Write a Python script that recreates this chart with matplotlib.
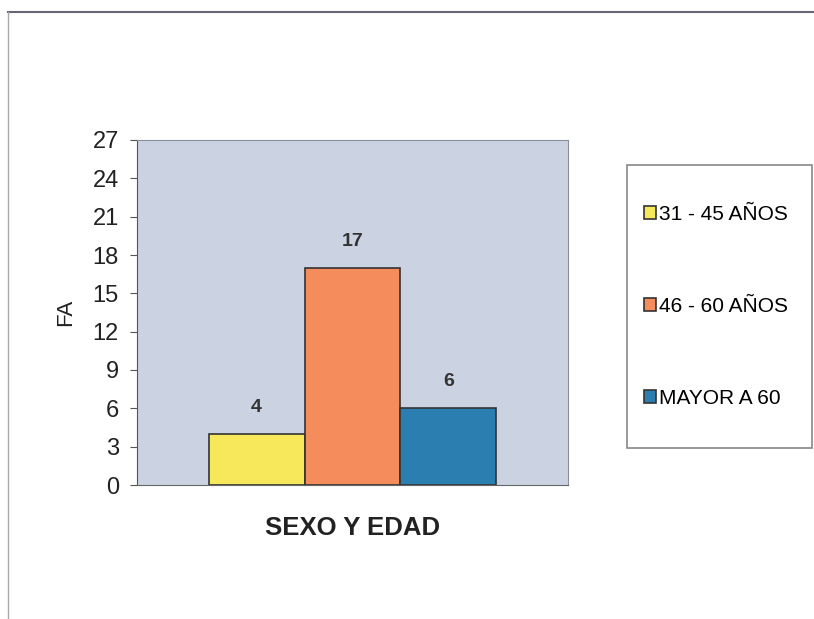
import matplotlib.pyplot as plt
from matplotlib.patches import Rectangle
from matplotlib.lines import Line2D

plt.rcParams['font.family'] = ['Liberation Sans', 'DejaVu Sans']

grupos = ['31 - 45 AÑOS', '46 - 60 AÑOS', 'MAYOR A 60']
fa = [4, 17, 6]
colores = ['#F6E85A', '#F58C5C', '#2A7FB0']
yticks = [0, 3, 6, 9, 12, 15, 18, 21, 24, 27]

fig = plt.figure(figsize=(8.14, 6.19), dpi=100)
ax = fig.add_axes([137/814, 1 - 485/619, 431/814, 345/619])
ax.set_facecolor('#CBD2E2')

pos = [-1, 0, 1]
bars = []
for p, v, c, g in zip(pos, fa, colores, grupos):
    b = ax.bar(p, v, width=1, color=c, edgecolor='#333333', linewidth=1.2, label=g)
    bars.append(b)
    ax.text(p, v + 1.4, str(v), ha='center', va='bottom', fontsize=14, fontweight='bold', color='#333333')

ax.set_xlim(-2.245, 2.245)
ax.set_ylim(0, 27)
ax.set_yticks(yticks)
ax.tick_params(axis='y', labelsize=17, length=5, pad=8, color='#555555', labelcolor='#222222')
ax.set_xticks([])
ax.set_ylabel('FA', fontsize=16, labelpad=12, color='#222222')
ax.set_xlabel('SEXO Y EDAD', fontsize=18.5, fontweight='bold', labelpad=22, color='#222222')
for s in ['top', 'right']:
    ax.spines[s].set_color('#8a8f9a')
ax.spines['left'].set_color('#555555')
ax.spines['bottom'].set_color('#666666')

# legend frame and entries
fig.patches.append(Rectangle((627/814, 1 - 448/619), 185/814, 283/619, transform=fig.transFigure,
                             facecolor='white', edgecolor='#888888', linewidth=1.2))
fig.legend(handles=[b[0] for b in bars], labels=grupos, loc='upper left',
           bbox_to_anchor=(625/814, 1 - 186/619), frameon=False, fontsize=15,
           handlelength=0.6, handleheight=0.6, handletextpad=0.15, labelspacing=3.5)

# outer border of the scanned chart
fig.add_artist(Line2D([8/814, 1], [1 - 12/619, 1 - 12/619], transform=fig.transFigure, color='#666677', linewidth=1.5))
fig.add_artist(Line2D([8/814, 8/814], [0, 1 - 12/619], transform=fig.transFigure, color='#aaaaaa', linewidth=1))

fig.savefig('out.png', dpi=100)
